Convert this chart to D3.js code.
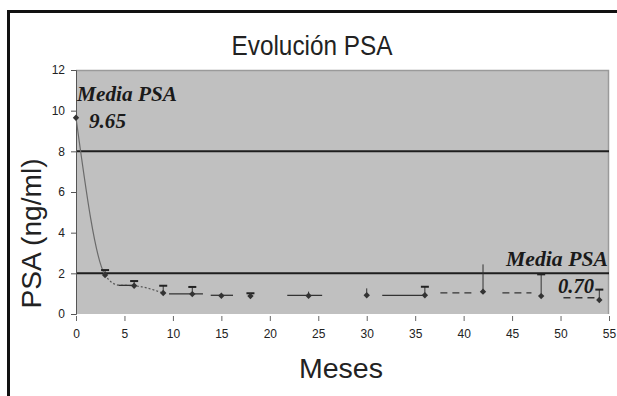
<!DOCTYPE html>
<html><head><meta charset="utf-8">
<script src="https://cdn.jsdelivr.net/npm/d3@7/dist/d3.min.js"></script>
<style>body{margin:0;background:#fff}svg{display:block}</style>
</head><body>
<script>
// ---- data ----
const months   = [0, 3, 6, 9, 12, 15, 18, 24, 30, 36, 42, 48, 54];
const psa      = [9.65, 1.92, 1.39, 1.03, 0.98, 0.9, 0.88, 0.9, 0.92, 0.92, 1.1, 0.88, 0.69];
const errUpper = [null, 2.16, 1.62, 1.39, 1.33, null, 1.02, 1.1, 1.26, 1.34, 2.44, 1.95, 1.2];
const errCap   = [false, true, true, true, true, false, true, false, false, true, false, true, true];
const curveMonths = [0, 3, 4.4, 6, 9];
const curveVals   = [9.65, 1.92, 1.42, 1.39, 1.03];
const segStart = [4.4, 9.6, 13.9, 21.8, 31.6, 37.6, 44, 50.3];
const segEnd   = [6, 13.1, 16.2, 25.4, 36, 41, 47, 54];
const segVal   = [1.41, 0.99, 0.92, 0.92, 0.92, 1.04, 1.04, 0.8];
const segDash  = [false, false, false, false, false, true, true, true];
const refLines = [2, 8];
const xTicks = [0,5,10,15,20,25,30,35,40,45,50,55];
const yTicks = [0,2,4,6,8,10,12];
const title = "Evolución PSA";
const xTitle = "Meses";
const yTitle = "PSA (ng/ml)";
const annotLabel = "Media PSA";
const annotStart = "9.65";
const annotEnd = "0.70";

// ---- layout ----
const W = 617, H = 396;
const L = 76, R = 609, T = 70, B = 314;
const svg = d3.select("body").append("svg").attr("width", W).attr("height", H);
const x = d3.scaleLinear().domain([0, 55]).range([L, R]);
const y = d3.scaleLinear().domain([0, 12]).range([B, T]);

// frame
svg.append("line").attr("x1", 7).attr("x2", W).attr("y1", 11.5).attr("y2", 11.5).attr("stroke", "#111").attr("stroke-width", 3);
svg.append("line").attr("x1", 8.5).attr("x2", 8.5).attr("y1", 10).attr("y2", H).attr("stroke", "#111").attr("stroke-width", 3);

// plot area
svg.append("rect").attr("x", L).attr("y", T).attr("width", R - L).attr("height", B - T).attr("fill", "#c0c0c0");
svg.append("path").attr("d", `M${L},${T+0.5}H${R-0.5}V${B}`).attr("fill", "none").attr("stroke", "#9a9a9a").attr("stroke-width", 1.5);

// reference lines
svg.selectAll(".ref").data(refLines).join("line")
  .attr("x1", L).attr("x2", R).attr("y1", d => y(d)).attr("y2", d => y(d))
  .attr("stroke", "#1e1e1e").attr("stroke-width", 2);

// axes
const yAxis = svg.append("g").attr("transform", `translate(${L},0)`)
  .call(d3.axisLeft(y).tickValues(yTicks).tickSize(5).tickPadding(6));
yAxis.select(".domain").attr("stroke", "#555");
yAxis.selectAll(".tick line").attr("stroke", "#555");
yAxis.selectAll("text").attr("font-family", "Liberation Sans, Arial, sans-serif").attr("font-size", 12).attr("fill", "#222");

const xAxis = svg.append("g").attr("transform", `translate(0,${B + 2})`)
  .call(d3.axisBottom(x).tickValues(xTicks).tickSize(5).tickPadding(8));
xAxis.select(".domain").remove();
xAxis.selectAll(".tick line").attr("stroke", "#666");
xAxis.selectAll("text").attr("font-family", "Liberation Sans, Arial, sans-serif").attr("font-size", 12).attr("fill", "#222");

// trend curve
const curvePts = curveMonths.map((m, i) => [x(m), y(curveVals[i])]);
const lineGen = d3.line().curve(d3.curveMonotoneX);
const defs = svg.append("defs");
defs.append("clipPath").attr("id", "c1").append("rect").attr("x", 0).attr("y", 0).attr("width", x(3)).attr("height", H);
defs.append("clipPath").attr("id", "c2").append("rect").attr("x", x(3)).attr("y", 0).attr("width", W).attr("height", H);
svg.append("path").attr("d", lineGen(curvePts)).attr("clip-path", "url(#c1)")
  .attr("fill", "none").attr("stroke", "#6a6a6a").attr("stroke-width", 1.2);
svg.append("path").attr("d", lineGen(curvePts)).attr("clip-path", "url(#c2)")
  .attr("fill", "none").attr("stroke", "#555").attr("stroke-width", 1.2).attr("stroke-dasharray", "2,2");

// horizontal segments
svg.selectAll(".seg").data(segStart).join("line")
  .attr("x1", (d) => x(d)).attr("x2", (d, i) => x(segEnd[i]))
  .attr("y1", (d, i) => y(segVal[i])).attr("y2", (d, i) => y(segVal[i]))
  .attr("stroke", "#333").attr("stroke-width", 1.3)
  .attr("stroke-dasharray", (d, i) => segDash[i] ? "7,5" : null);

// error bars
const eb = months.map((m, i) => ({m, v: psa[i], u: errUpper[i], c: errCap[i]})).filter(d => d.u != null);
svg.selectAll(".eb").data(eb).join("line")
  .attr("x1", d => x(d.m)).attr("x2", d => x(d.m)).attr("y1", d => y(d.v)).attr("y2", d => y(d.u))
  .attr("stroke", "#333").attr("stroke-width", 1);
svg.selectAll(".cap").data(eb.filter(d => d.c)).join("line")
  .attr("x1", d => x(d.m) - 4).attr("x2", d => x(d.m) + 4).attr("y1", d => y(d.u)).attr("y2", d => y(d.u))
  .attr("stroke", "#222").attr("stroke-width", 2);

// markers
svg.selectAll(".pt").data(months).join("path")
  .attr("transform", (d, i) => `translate(${x(d)},${y(psa[i])})`)
  .attr("d", d3.symbol(d3.symbolDiamond2, 26))
  .attr("fill", "#333");

// titles
svg.append("text").attr("x", 312).attr("y", 55).attr("text-anchor", "middle")
  .attr("font-family", "Liberation Sans, Arial, sans-serif").attr("font-size", 28).attr("fill", "#222")
  .attr("textLength", 161).attr("lengthAdjust", "spacingAndGlyphs").text(title);
svg.append("text").attr("x", 341).attr("y", 378).attr("text-anchor", "middle")
  .attr("font-family", "Liberation Sans, Arial, sans-serif").attr("font-size", 27).attr("fill", "#222")
  .attr("textLength", 84).attr("lengthAdjust", "spacingAndGlyphs").text(xTitle);
svg.append("text").attr("transform", `translate(41,${(160 + 307) / 2}) rotate(-90)`).attr("text-anchor", "middle")
  .attr("font-family", "Liberation Sans, Arial, sans-serif").attr("font-size", 28).attr("fill", "#222")
  .attr("textLength", 150).attr("lengthAdjust", "spacingAndGlyphs").text(yTitle);

// annotations
const af = "Liberation Serif, Times New Roman, serif";
function annot(txt, ax, ay, len, fs) {
  return svg.append("text").attr("x", ax).attr("y", ay)
    .attr("font-family", af).attr("font-style", "italic").attr("font-weight", "bold")
    .attr("font-size", fs).attr("fill", "#1a1a1a")
    .attr("textLength", len).attr("lengthAdjust", "spacingAndGlyphs").text(txt);
}
annot(annotLabel, 77, 101, 100, 21);
annot(annotStart, 89, 128, 37, 20);
annot(annotLabel, 506, 266, 102, 21);
annot(annotEnd, 558, 293, 36, 20);
</script>
</body></html>
